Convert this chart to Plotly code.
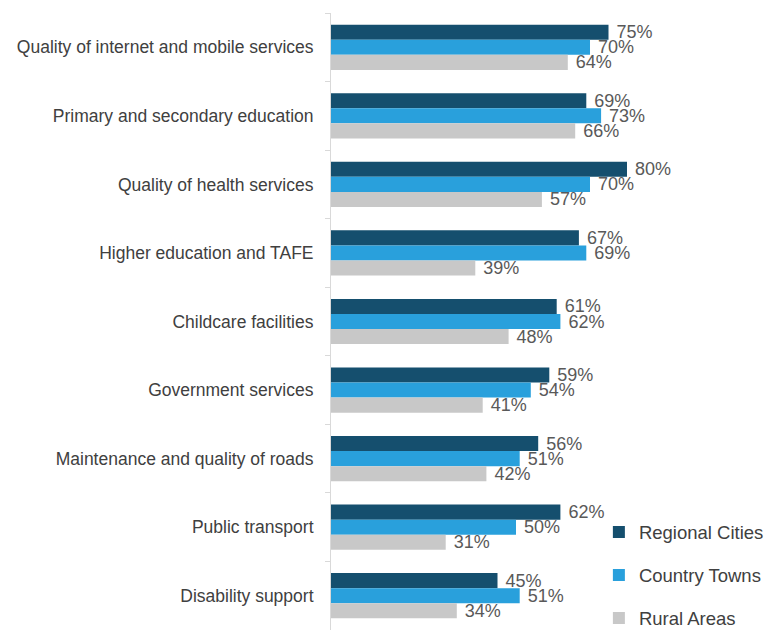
import plotly.graph_objects as go

categories = [
    "Quality of internet and mobile services",
    "Primary and secondary education",
    "Quality of health services",
    "Higher education and TAFE",
    "Childcare facilities",
    "Government services",
    "Maintenance and quality of roads",
    "Public transport",
    "Disability support",
]
regional_cities = [75, 69, 80, 67, 61, 59, 56, 62, 45]
country_towns = [70, 73, 70, 69, 62, 54, 51, 50, 51]
rural_areas = [64, 66, 57, 39, 48, 41, 42, 31, 34]

series = [
    ("Regional Cities", regional_cities, "#154f6e"),
    ("Country Towns", country_towns, "#29a0dc"),
    ("Rural Areas", rural_areas, "#c8c8c8"),
]

FONT = "Liberation Sans, Arial, sans-serif"

fig = go.Figure()
for i, (name, vals, color) in enumerate(series):
    fig.add_trace(go.Bar(
        y=categories,
        x=vals,
        name=name,
        orientation="h",
        marker=dict(color=color, line=dict(width=0)),
        text=[f" {v}%" for v in vals],
        textposition="outside",
        constraintext="none",
        cliponaxis=False,
        textfont=dict(size=18, color="#595959", family=FONT),
        legendgroup=f"g{i}",
    ))

fig.update_layout(
    width=764,
    height=631,
    margin=dict(l=331, r=63, t=13, b=1, autoexpand=False),
    barmode="group",
    bargap=0.34,
    bargroupgap=0,
    plot_bgcolor="white",
    paper_bgcolor="white",
    font=dict(family=FONT, size=17.5, color="#404040"),
    showlegend=True,
    legend=dict(
        x=0.724, y=-0.012, xanchor="left", yanchor="bottom",
        font=dict(size=18.5, color="#404040"),
        tracegroupgap=16,
        bgcolor="rgba(0,0,0,0)",
        itemwidth=30,
    ),
    xaxis=dict(
        range=[0, 100],
        visible=False,
        showgrid=False,
        zeroline=False,
    ),
    yaxis=dict(
        autorange="reversed",
        showline=True,
        linecolor="#d9d9d9",
        linewidth=1,
        ticks="outside",
        tickson="boundaries",
        ticklen=5,
        tickcolor="#d9d9d9",
        ticklabelstandoff=13,
        tickfont=dict(size=17.5, color="#404040"),
        showgrid=False,
    ),
)

fig.write_html("out.html")
